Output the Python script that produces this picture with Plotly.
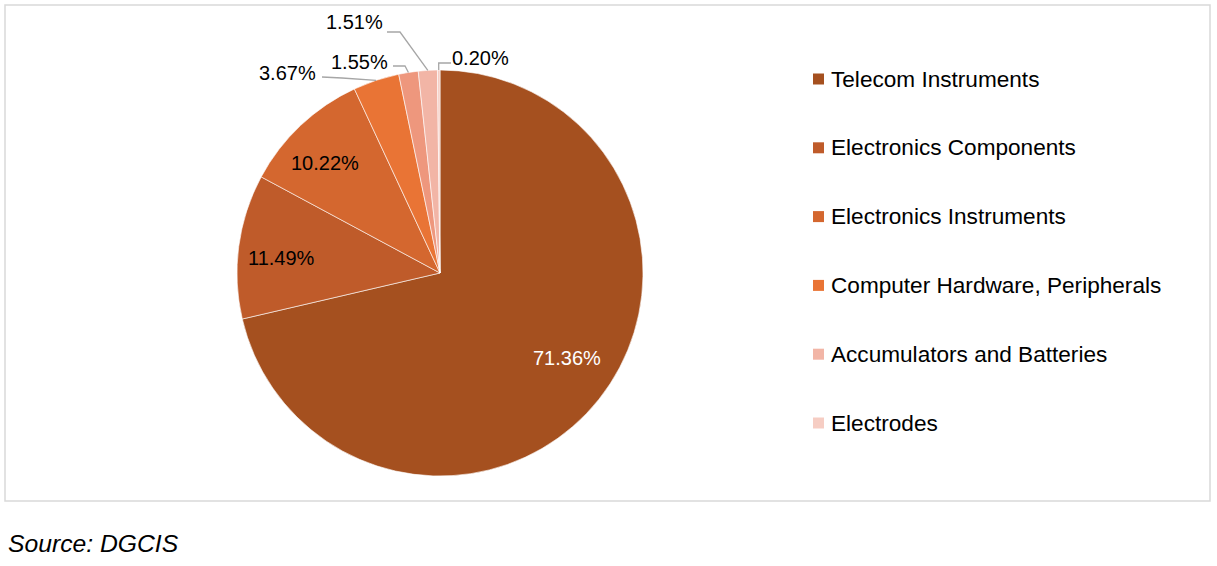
import math
import plotly.graph_objects as go

# ---------------- data ----------------
categories = ["Telecom Instruments", "Electronics Components", "Electronics Instruments",
              "Computer Hardware, Peripherals", "Other", "Accumulators and Batteries", "Electrodes"]
shares = [71.36, 11.49, 10.22, 3.67, 1.55, 1.51, 0.20]
colors = ["#A5501F", "#BF5B2A", "#D4672F", "#E97435", "#EE977D", "#F2B5A6", "#F6CDC3"]
legend_items = [0, 1, 2, 3, 5, 6]          # indices shown in the legend
source_text = "Source: DGCIS"

# ---------------- layout constants (pixels) ----------------
W, H = 1217, 566
CX, CY, R = 440, 273, 203
FONT = "Liberation Sans, Arial, sans-serif"
LEG_X0, LEG_Y0, LEG_DY, SQ = 813, 79, 68.8, 11

def px(x):
    return x / W

def py(y):
    return 1 - y / H

# inside labels: (radius fraction, angle tweak deg, text colour)
inside_cfg = {0: (0.753, -4.6, "white"), 1: (0.784, -2.2, "black"), 2: (0.784, -3.0, "black")}
# outside labels: text centre, leader start, elbow (pixels)
outside_cfg = {
    3: dict(text=(287, 73), start=(322, 77), elbow=(342, 78)),
    4: dict(text=(359.5, 62), start=(393, 66), elbow=(405, 66)),
    5: dict(text=(354.5, 22), start=(387, 32), elbow=(400, 32)),
    6: dict(text=(480.5, 58), start=(451, 63), elbow=(438.7, 63)),
}

fig = go.Figure()
fig.add_trace(go.Pie(
    labels=categories, values=shares, sort=False, direction="clockwise", rotation=0,
    marker=dict(colors=colors, line=dict(color="rgba(255,255,255,0.6)", width=1)),
    textinfo="none", hoverinfo="label+percent", showlegend=False,
    domain=dict(x=[px(CX - R), px(CX + R)], y=[py(CY + R), py(CY - R)]),
))

total = sum(shares)
cum = 0.0
annotations = []
shapes = []
for i, v in enumerate(shares):
    mid = (cum + v / 2) / total * 360.0
    cum += v
    label = f"{v:.2f}%"
    if i in inside_cfg:
        rf, dang, col = inside_cfg[i]
        a = math.radians(mid + dang)
        x = CX + rf * R * math.sin(a)
        y = CY - rf * R * math.cos(a)
        annotations.append(dict(x=px(x), y=py(y), xref="paper", yref="paper", text=label,
                                xanchor="center", yanchor="middle",
                                showarrow=False, font=dict(family=FONT, size=20, color=col)))
    else:
        c = outside_cfg[i]
        a = math.radians(mid)
        ex = CX + R * math.sin(a)
        ey = CY - R * math.cos(a)
        tx, ty = c["text"]
        annotations.append(dict(x=px(tx), y=py(ty), xref="paper", yref="paper", text=label,
                                xanchor="center", yanchor="middle",
                                showarrow=False, font=dict(family=FONT, size=20, color="black")))
        (sx, sy), (bx, by) = c["start"], c["elbow"]
        path = f"M {px(sx)} {py(sy)} L {px(bx)} {py(by)} L {px(ex)} {py(ey)}"
        shapes.append(dict(type="path", path=path, xref="paper", yref="paper",
                           line=dict(color="#A6A6A6", width=1.3)))

# manual legend
for k, i in enumerate(legend_items):
    yc = LEG_Y0 + k * LEG_DY
    shapes.append(dict(type="rect", xref="paper", yref="paper",
                       x0=px(LEG_X0), x1=px(LEG_X0 + SQ), y0=py(yc + SQ / 2), y1=py(yc - SQ / 2),
                       fillcolor=colors[i], line=dict(width=0)))
    annotations.append(dict(x=px(LEG_X0 + SQ + 5), y=py(yc), xref="paper", yref="paper",
                            text=categories[i], xanchor="left", yanchor="middle", showarrow=False,
                            font=dict(family=FONT, size=22.6, color="black")))

annotations.append(dict(x=px(6), y=py(543), xref="paper", yref="paper", text=source_text,
                        xanchor="left", yanchor="middle", showarrow=False,
                        font=dict(family=FONT, size=24.7, color="black", style="italic")))

shapes.append(dict(type="rect", xref="paper", yref="paper",
                   x0=px(5), x1=px(1210), y0=py(501), y1=py(5),
                   line=dict(color="#D9D9D9", width=1.5)))

fig.update_layout(
    width=W, height=H, margin=dict(l=0, r=0, t=0, b=0),
    paper_bgcolor="white", plot_bgcolor="white",
    annotations=annotations, shapes=shapes, showlegend=False,
    font=dict(family=FONT),
)

fig.write_html("out.html", config={"displayModeBar": False},
               post_script="document.body.style.margin='0';")
